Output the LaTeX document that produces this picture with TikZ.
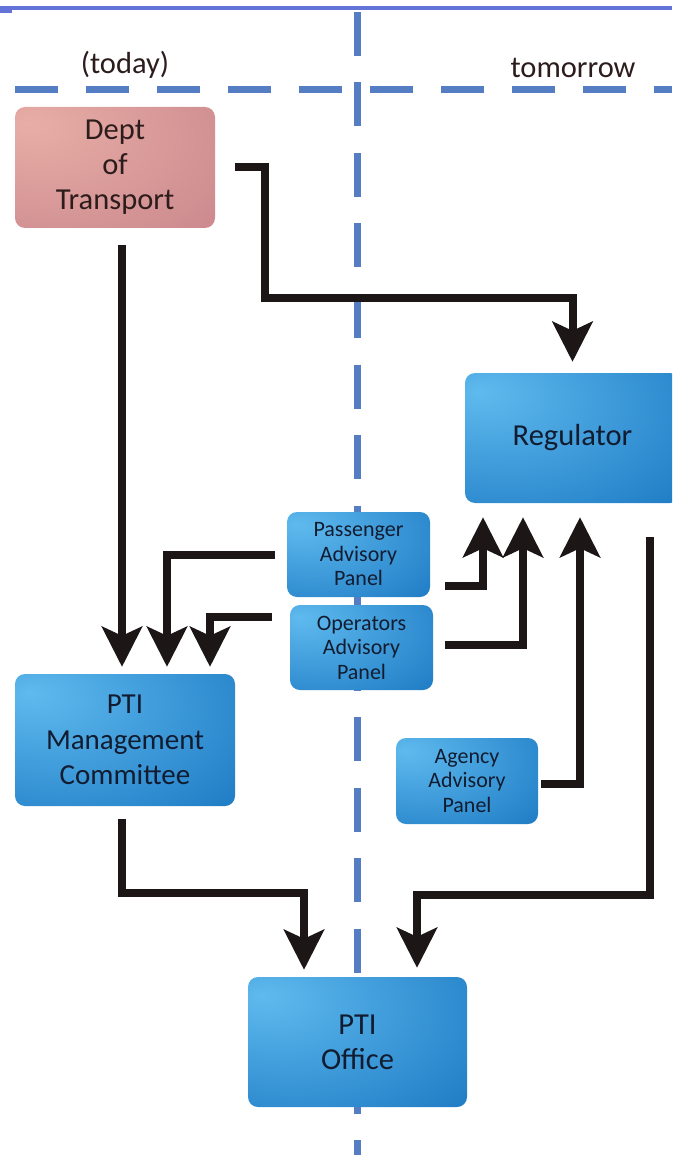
\documentclass[tikz,border=0pt]{standalone}
\usepackage{fontspec}
\setmainfont{Carlito}
\usetikzlibrary{arrows.meta, calc}

\definecolor{dashblue}{RGB}{85,125,195}
\definecolor{topblue}{RGB}{100,115,215}
\definecolor{boxtext}{RGB}{18,28,48}
\definecolor{dottext}{RGB}{45,28,28}
\definecolor{arrowblack}{RGB}{28,22,22}
\definecolor{bluelight}{RGB}{95,186,238}
\definecolor{bluedark}{RGB}{8,102,182}
\definecolor{pinklight}{RGB}{232,174,166}
\definecolor{pinkdark}{RGB}{192,122,132}

\pgfdeclareradialshading{blueglow}{\pgfpoint{-22bp}{18bp}}{color(0bp)=(bluelight); color(68bp)=(bluedark); color(100bp)=(bluedark)}
\pgfdeclareradialshading{pinkglow}{\pgfpoint{-22bp}{18bp}}{color(0bp)=(pinklight); color(70bp)=(pinkdark); color(100bp)=(pinkdark)}

\begin{document}
\begin{tikzpicture}[x=1pt, y=-1pt,
	box/.style={rectangle, rounded corners=10pt, shade, shading=blueglow, text=boxtext, align=center, inner sep=0pt},
	bigbox/.style={box, font=\fontsize{30.5}{35}\selectfont},
	panel/.style={box, minimum width=143pt, minimum height=85pt, font=\fontsize{22}{24.5}\selectfont},
	flow/.style={draw=arrowblack, line width=8pt, -{Stealth[length=40pt, width=40pt, inset=9pt]}},
	divider/.style={dashblue, line width=7pt}]

	\useasboundingbox (0,0) rectangle (672,1155);
	\clip (0,0) rectangle (672,1155);

	% today / tomorrow split
	\fill[topblue] (0,6) rectangle (672,10.5);
	\fill[topblue] (0,9) rectangle (12,13.5);
	\draw[divider, dash pattern=on 43pt off 28pt, dash phase=56pt] (0,90) -- (672,90);
	\draw[divider, dash pattern=on 44pt off 26.5pt, dash phase=68.5pt] (357,10) -- (357,1155);

	\node[font=\fontsize{30.5}{34}\selectfont, text=dottext] (today) at (125,65) {(today)};
	\node[font=\fontsize{30.5}{34}\selectfont, text=dottext] (tomorrow) at (573,68) {tomorrow};

	\node[bigbox, shading=pinkglow, text=dottext, minimum width=200pt, minimum height=121pt] (dot) at (115,167.5) {Dept\\of\\Transport};
	\node[bigbox, minimum width=215pt, minimum height=130pt] (reg) at (572.5,438) {Regulator};
	\node[panel] (pap) at (358.5,554.5) {Passenger\\Advisory\\Panel};
	\node[panel] (oap) at (361.5,647.5) {Operators\\Advisory\\Panel};
	\node[bigbox, font=\fontsize{29}{35.5}\selectfont, minimum width=220pt, minimum height=132pt] (mgmt) at (125,740) {PTI\\Management\\Committee};
	\node[panel, minimum width=142pt, minimum height=86pt] (aap) at (467,781) {Agency\\Advisory\\Panel};
	\node[bigbox, minimum width=219pt, minimum height=130pt] (office) at (357.5,1042) {PTI\\Office};

	\coordinate (bend) at (265,298);
	\coordinate (join) at (417,895);
	\coordinate (merge) at (304,893);

	\draw[flow, shorten >=11pt] ([xshift=20pt]dot.east) -| (bend) -| (reg.north);
	\draw[flow, shorten <=17pt, shorten >=7pt] ([xshift=7pt]dot.south) -- ([xshift=-3pt]mgmt.north);
	\draw[flow, shorten <=12pt, shorten >=7pt] (pap.west) -| ([xshift=42pt]mgmt.north);
	\draw[flow, shorten <=18pt, shorten >=7pt] ([yshift=30.5pt]oap.west) -| ([xshift=85pt]mgmt.north);
	\draw[flow, shorten <=15pt, shorten >=14pt] ([yshift=-31.5pt]pap.east) -| ([xshift=-89.5pt]reg.south);
	\draw[flow, shorten <=12pt, shorten >=14pt] ([yshift=2.5pt]oap.east) -| ([xshift=-49.5pt]reg.south);
	\draw[flow, shorten <=3pt, shorten >=14pt] ([yshift=-3pt]aap.east) -| ([xshift=7.5pt]reg.south);
	\draw[flow, shorten <=34pt, shorten >=9pt] ([xshift=77.5pt]reg.south) |- (join) -- ([xshift=59.5pt]office.north);
	\draw[flow, shorten <=13pt, shorten >=7pt] ([xshift=-3pt]mgmt.south) |- (merge) -- ([xshift=-53.5pt]office.north);
\end{tikzpicture}
\end{document}
